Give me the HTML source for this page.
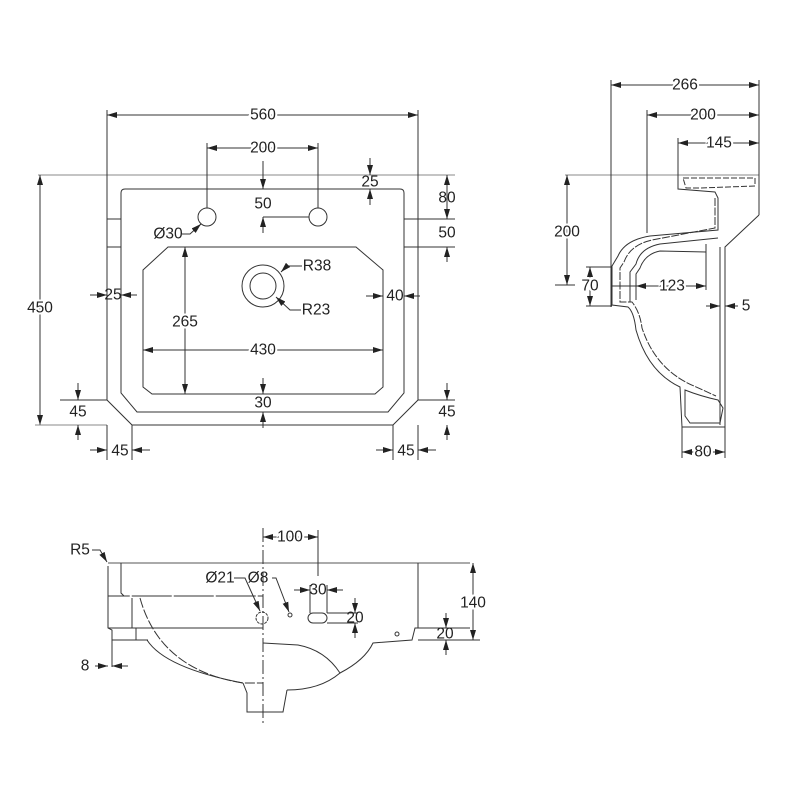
<!DOCTYPE html>
<html><head><meta charset="utf-8"><style>
html,body{margin:0;padding:0;background:#fff;}
svg{display:block}
text{font-family:"Liberation Sans",sans-serif;font-size:15.5px;fill:#222;}
</style></head><body>
<svg width="800" height="800" viewBox="0 0 800 800" xmlns="http://www.w3.org/2000/svg">
<defs>
<marker id="a" viewBox="0 0 10 6" refX="10" refY="3" markerWidth="10" markerHeight="6" orient="auto-start-reverse" markerUnits="userSpaceOnUse"><path d="M0,0 L10,3 L0,6 z" fill="#222"/></marker>
</defs>
<g fill="none" stroke="#333" stroke-width="1">
<line x1="38" y1="175" x2="455" y2="175" stroke="#888"/>
<path d="M107,175 L107,400 L132,425 L393,425 L418,400 L418,175"/>
<path d="M121,193 Q121,189 125,189 L400,189 Q404,189 404,193 L404,393 L388,412 L137,412 L121,393 Z"/>
<line x1="107" y1="219" x2="121" y2="219"/><line x1="107" y1="247" x2="121" y2="247"/>
<line x1="404" y1="219" x2="455" y2="219"/><line x1="404" y1="247" x2="455" y2="247"/>
<path d="M168,247 L356,247 L383,270 L383,387 L375,394 L152,394 L143,387 L143,270 Z"/>
<circle cx="207" cy="217" r="9"/><circle cx="318" cy="217" r="9"/>
<circle cx="263" cy="286" r="21"/><circle cx="263" cy="286" r="13"/>
<line x1="107" y1="110" x2="107" y2="175"/><line x1="418" y1="110" x2="418" y2="175"/>
<line x1="107" y1="115" x2="418" y2="115" marker-start="url(#a)" marker-end="url(#a)"/>
<line x1="207" y1="143" x2="207" y2="208"/><line x1="318" y1="143" x2="318" y2="208"/>
<line x1="207" y1="148" x2="318" y2="148" marker-start="url(#a)" marker-end="url(#a)"/>
<line x1="370" y1="158" x2="370" y2="175" marker-end="url(#a)"/><line x1="370" y1="205" x2="370" y2="189" marker-end="url(#a)"/>
<line x1="263" y1="161" x2="263" y2="189" marker-end="url(#a)"/><line x1="263" y1="233" x2="263" y2="217" marker-end="url(#a)"/>
<line x1="263" y1="217" x2="309" y2="217"/>
<line x1="447" y1="175" x2="447" y2="219" marker-start="url(#a)" marker-end="url(#a)"/>
<line x1="447" y1="262" x2="447" y2="247" marker-end="url(#a)"/>
<line x1="40" y1="175" x2="40" y2="425" marker-start="url(#a)" marker-end="url(#a)"/>
<line x1="35" y1="425" x2="107" y2="425" stroke="#888"/>
<line x1="90" y1="295" x2="107" y2="295" marker-end="url(#a)"/><line x1="137" y1="295" x2="121" y2="295" marker-end="url(#a)"/>
<line x1="366" y1="296" x2="383" y2="296" marker-end="url(#a)"/><line x1="420" y1="296" x2="404" y2="296" marker-end="url(#a)"/>
<line x1="185" y1="247" x2="185" y2="394" marker-start="url(#a)" marker-end="url(#a)"/>
<line x1="143" y1="350" x2="383" y2="350" marker-start="url(#a)" marker-end="url(#a)"/>
<line x1="263" y1="378" x2="263" y2="394" marker-end="url(#a)"/><line x1="263" y1="428" x2="263" y2="412" marker-end="url(#a)"/>
<line x1="418" y1="400" x2="455" y2="400"/><line x1="60" y1="400" x2="107" y2="400"/>
<line x1="78" y1="383" x2="78" y2="400" marker-end="url(#a)"/><line x1="78" y1="440" x2="78" y2="425" marker-end="url(#a)"/>
<line x1="447" y1="383" x2="447" y2="400" marker-end="url(#a)"/><line x1="447" y1="440" x2="447" y2="425" marker-end="url(#a)"/>
<line x1="107" y1="425" x2="107" y2="460"/><line x1="132" y1="425" x2="132" y2="460"/>
<line x1="393" y1="425" x2="393" y2="460"/><line x1="418" y1="425" x2="418" y2="460"/>
<line x1="90" y1="450" x2="107" y2="450" marker-end="url(#a)"/><line x1="150" y1="450" x2="132" y2="450" marker-end="url(#a)"/>
<line x1="376" y1="450" x2="393" y2="450" marker-end="url(#a)"/><line x1="436" y1="450" x2="418" y2="450" marker-end="url(#a)"/>
<path d="M182,234 L190,234 L201,224" marker-end="url(#a)"/>
<path d="M302,266 L287,266 L281,272" marker-end="url(#a)"/>
<path d="M301,310 L290,310 L276,297" marker-end="url(#a)"/>

<line x1="565" y1="175" x2="759" y2="175" stroke="#888"/>
<line x1="611" y1="80" x2="611" y2="307"/>
<line x1="647" y1="110" x2="647" y2="233"/>
<line x1="678" y1="138" x2="678" y2="175"/>
<line x1="759" y1="80" x2="759" y2="215"/>
<line x1="611" y1="85" x2="759" y2="85" marker-start="url(#a)" marker-end="url(#a)"/>
<line x1="647" y1="115" x2="759" y2="115" marker-start="url(#a)" marker-end="url(#a)"/>
<line x1="678" y1="143" x2="759" y2="143" marker-start="url(#a)" marker-end="url(#a)"/>
<path d="M678,175 L678,189 L715,192 L718,198 L718,230 L650,236 Q625,240 618,256 L612,266 L612,305 L628,307 Q634,312 636,330 Q648,372 680,387 L682,427 L725,427 L725,247 L759,215"/>
<path d="M683,178 L755,178 L755,186 L700,188 L686,188 Z" stroke-dasharray="6,2"/>
<path d="M685,390 Q700,396 718,400 L723,408 L720,423 L690,423 L685,416 Z"/>
<path d="M715,198 L715,228 L652,240 Q630,245 624,262 L620,268 L620,302 L632,302 Q640,312 642,328 Q656,370 694,386 L716,396" stroke-dasharray="8,1.5"/>
<path d="M718,238 L660,244 Q640,248 636,264 L630,272 L630,302" />
<path d="M706,244 L706,252 L660,251 Q645,254 640,268 L636,274 L636,300"/>
<line x1="720" y1="247" x2="720" y2="425"/>
<line x1="706" y1="252" x2="706" y2="290"/>
<line x1="567" y1="175" x2="567" y2="285" marker-start="url(#a)" marker-end="url(#a)"/>
<line x1="555" y1="285" x2="575" y2="285"/>
<line x1="586" y1="267" x2="612" y2="267"/><line x1="586" y1="306" x2="612" y2="306"/>
<line x1="590" y1="267" x2="590" y2="306" marker-start="url(#a)" marker-end="url(#a)"/>
<line x1="612" y1="286" x2="636" y2="286"/>
<line x1="636" y1="286" x2="706" y2="286" marker-start="url(#a)" marker-end="url(#a)"/>
<line x1="706" y1="306" x2="720" y2="306" marker-end="url(#a)"/><line x1="738" y1="306" x2="725" y2="306" marker-end="url(#a)"/>
<line x1="682" y1="427" x2="682" y2="458"/><line x1="725" y1="427" x2="725" y2="458"/>
<line x1="682" y1="452" x2="725" y2="452" marker-start="url(#a)" marker-end="url(#a)"/>

<line x1="108" y1="563" x2="470" y2="563" stroke="#555"/>
<line x1="263" y1="528" x2="263" y2="726" stroke-dasharray="14,3,2,3"/>
<path d="M108,566 L108,628 L112,630 L112,667"/>
<path d="M121,563 L121,593 L124,596 L263,596" stroke-dasharray="40,2"/>
<line x1="108" y1="596" x2="124" y2="596"/>
<line x1="108" y1="628" x2="263" y2="628"/>
<line x1="112" y1="640" x2="148" y2="640"/>
<line x1="132" y1="598" x2="132" y2="628"/>
<line x1="136" y1="628" x2="136" y2="640"/>
<path d="M140,598 Q160,670 243,683 L263,683" stroke-dasharray="10,2"/>
<path d="M147,640 Q165,668 243,683"/>
<path d="M243,683 L247,693 L247,712 L283,712 L287,690"/>
<path d="M263,643 L298,645 Q325,650 340,673 Q320,690 287,690"/>
<path d="M340,673 Q365,660 373,643 L412,640 L415,628 L470,628"/>
<line x1="418" y1="563" x2="418" y2="628"/>
<rect x="308" y="613" width="19" height="10" rx="5"/>
<line x1="327" y1="613" x2="358" y2="613"/><line x1="327" y1="623" x2="358" y2="623"/>
<line x1="310" y1="585" x2="310" y2="613"/><line x1="327" y1="585" x2="327" y2="613"/>
<circle cx="262" cy="618" r="6" stroke-dasharray="3,1"/>
<circle cx="290" cy="615" r="2"/><circle cx="397" cy="634" r="2"/>
<line x1="318" y1="530" x2="318" y2="576"/>
<line x1="263" y1="537" x2="318" y2="537" marker-start="url(#a)" marker-end="url(#a)"/>
<line x1="294" y1="590" x2="310" y2="590" marker-end="url(#a)"/><line x1="343" y1="590" x2="327" y2="590" marker-end="url(#a)"/>
<line x1="355" y1="598" x2="355" y2="613" marker-end="url(#a)"/><line x1="355" y1="638" x2="355" y2="623" marker-end="url(#a)"/>
<line x1="473" y1="563" x2="473" y2="640" marker-start="url(#a)" marker-end="url(#a)"/>
<line x1="418" y1="640" x2="480" y2="640"/>
<line x1="446" y1="613" x2="446" y2="628" marker-end="url(#a)"/><line x1="446" y1="655" x2="446" y2="640" marker-end="url(#a)"/>
<line x1="95" y1="666" x2="108" y2="666" marker-end="url(#a)"/><line x1="128" y1="666" x2="112" y2="666" marker-end="url(#a)"/>
<path d="M92,550 L100,550 L107,562" marker-end="url(#a)"/>
<path d="M234,578 L245,578 L260,611" marker-end="url(#a)"/>
<path d="M272,578 L276,578 L289,612" marker-end="url(#a)"/>
</g>
<g text-anchor="middle" dominant-baseline="central">
<text x="263" y="115" style="paint-order:stroke;stroke:#fff;stroke-width:4">560</text>
<text x="263" y="148" style="paint-order:stroke;stroke:#fff;stroke-width:4">200</text>
<text x="370" y="182">25</text>
<text x="263" y="204">50</text>
<text x="447" y="198">80</text>
<text x="447" y="233">50</text>
<text x="40" y="308" style="paint-order:stroke;stroke:#fff;stroke-width:4">450</text>
<text x="113" y="295">25</text>
<text x="395" y="296">40</text>
<text x="185" y="322" style="paint-order:stroke;stroke:#fff;stroke-width:4">265</text>
<text x="263" y="350" style="paint-order:stroke;stroke:#fff;stroke-width:4">430</text>
<text x="263" y="403">30</text>
<text x="168" y="234">Ø30</text>
<text x="317" y="266">R38</text>
<text x="316" y="310">R23</text>
<text x="78" y="412">45</text>
<text x="447" y="412">45</text>
<text x="120" y="451">45</text>
<text x="406" y="451">45</text>
<text x="685" y="85" style="paint-order:stroke;stroke:#fff;stroke-width:4">266</text>
<text x="703" y="115" style="paint-order:stroke;stroke:#fff;stroke-width:4">200</text>
<text x="719" y="143" style="paint-order:stroke;stroke:#fff;stroke-width:4">145</text>
<text x="567" y="232" style="paint-order:stroke;stroke:#fff;stroke-width:4">200</text>
<text x="590" y="286" style="paint-order:stroke;stroke:#fff;stroke-width:4">70</text>
<text x="672" y="286" style="paint-order:stroke;stroke:#fff;stroke-width:4">123</text>
<text x="746" y="306">5</text>
<text x="703" y="452" style="paint-order:stroke;stroke:#fff;stroke-width:4">80</text>
<text x="290" y="537" style="paint-order:stroke;stroke:#fff;stroke-width:4">100</text>
<text x="80" y="550">R5</text>
<text x="220" y="578">Ø21</text>
<text x="258" y="578">Ø8</text>
<text x="318" y="590">30</text>
<text x="355" y="618">20</text>
<text x="473" y="603" style="paint-order:stroke;stroke:#fff;stroke-width:4">140</text>
<text x="445" y="634">20</text>
<text x="85" y="666">8</text>
</g>
</svg>
</body></html>
